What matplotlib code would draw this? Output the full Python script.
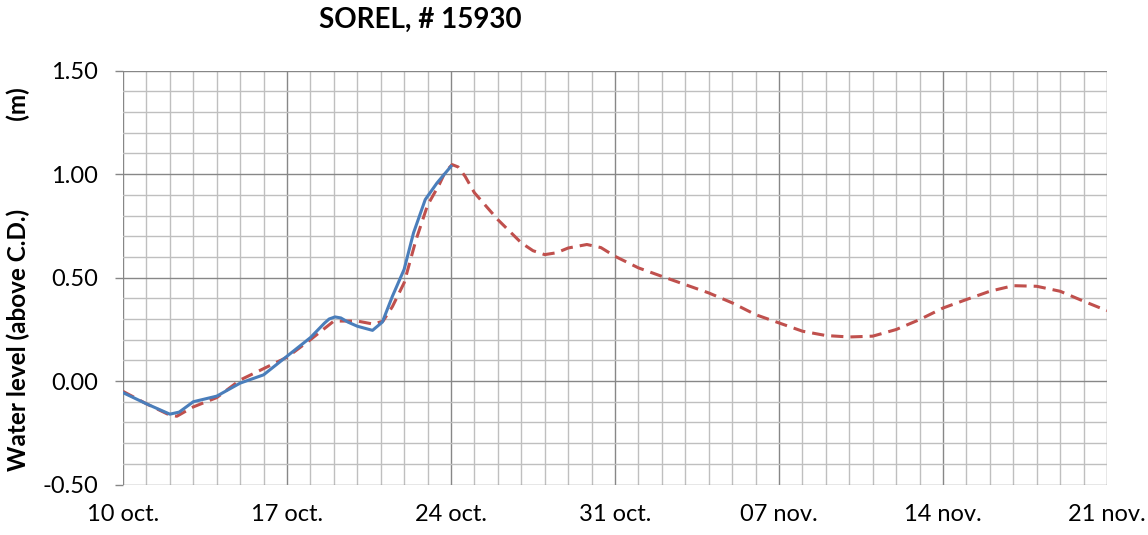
import matplotlib
matplotlib.use("Agg")
import matplotlib.pyplot as plt
from matplotlib.ticker import MultipleLocator, FixedLocator

plt.rcParams['font.family'] = ['Lato', 'DejaVu Sans']

# days counted from 10 oct.
pred_days = [0, 1, 2, 2.3, 3, 4, 5, 6, 7, 8, 9, 10, 10.7, 11.1, 11.5, 12, 12.5, 13, 13.5,
             13.75, 14.05, 14.3, 14.6, 15, 16, 17, 17.5, 18, 18.5, 19, 19.8, 20.4, 21, 22,
             23, 24, 25, 26, 27, 28, 29, 30, 31, 32, 33, 34, 35, 36, 37, 38, 39, 40, 41, 42]
pred_level = [-0.05, -0.11, -0.165, -0.17, -0.125, -0.08, 0.005, 0.06, 0.115, 0.20, 0.29,
              0.29, 0.275, 0.29, 0.36, 0.475, 0.68, 0.85, 0.95, 1.01, 1.046, 1.035, 0.99,
              0.91, 0.78, 0.668, 0.63, 0.611, 0.62, 0.643, 0.66, 0.645, 0.603, 0.547, 0.506,
              0.466, 0.426, 0.378, 0.321, 0.281, 0.241, 0.22, 0.213, 0.217, 0.249, 0.297,
              0.353, 0.394, 0.434, 0.461, 0.458, 0.434, 0.386, 0.34]

obs_days = [0, 1, 2, 2.4, 3, 4, 5, 6, 7, 8, 8.6, 8.8, 9.05, 9.3, 9.6, 10, 10.65, 11.07,
            11.5, 12, 12.4, 12.9, 13.4, 14]
obs_level = [-0.056, -0.11, -0.16, -0.15, -0.10, -0.073, -0.01, 0.03, 0.12, 0.21, 0.28,
             0.30, 0.31, 0.305, 0.285, 0.265, 0.245, 0.285, 0.41, 0.54, 0.716, 0.877, 0.957,
             1.038]

tick_days = [0, 7, 14, 21, 28, 35, 42]
tick_labels = ['10 oct.', '17 oct.', '24 oct.', '31 oct.', '07 nov.', '14 nov.', '21 nov.']

fig = plt.figure(figsize=(11.48, 5.35), dpi=100)
ax = fig.add_axes([123 / 1148, 1 - 484.5 / 535, (1107 - 123) / 1148, (484.5 - 70.7) / 535])

ax.plot(pred_days, pred_level, color='#C0504D', lw=2.2, dashes=(4, 2.3), zorder=3)
ax.plot(obs_days, obs_level, color='#4A7EBB', lw=2.2, zorder=4)

ax.set_xlim(0, 42)
ax.set_ylim(-0.5, 1.5)
ax.xaxis.set_major_locator(FixedLocator(tick_days))
ax.set_xticklabels(tick_labels)
ax.xaxis.set_minor_locator(MultipleLocator(1))
ax.yaxis.set_major_locator(MultipleLocator(0.5))
ax.yaxis.set_minor_locator(MultipleLocator(0.1))
ax.yaxis.set_major_formatter(plt.FormatStrFormatter('%.2f'))

ax.grid(which='major', color='#878787', lw=1.0, zorder=1)
ax.grid(which='minor', color='#BFBFBF', lw=1.0, zorder=0)
for s in ax.spines.values():
    s.set_visible(False)

ax.tick_params(axis='x', which='both', length=0, labelsize=17, pad=14)
ax.tick_params(axis='y', which='minor', length=0)
ax.tick_params(axis='y', which='major', length=6, width=1, color='#878787',
               labelsize=17, pad=12)

ax.set_ylabel('Water level (above C.D.)               (m)', fontsize=17.5,
              fontweight='bold', va='center')
ax.yaxis.set_label_coords(-105 / 984, 0.497)

fig.text(420 / 1148, 1 - 28 / 535, 'SOREL, # 15930', fontsize=20, fontweight='bold',
         ha='center', va='baseline')

fig.savefig('out.png', dpi=100)
